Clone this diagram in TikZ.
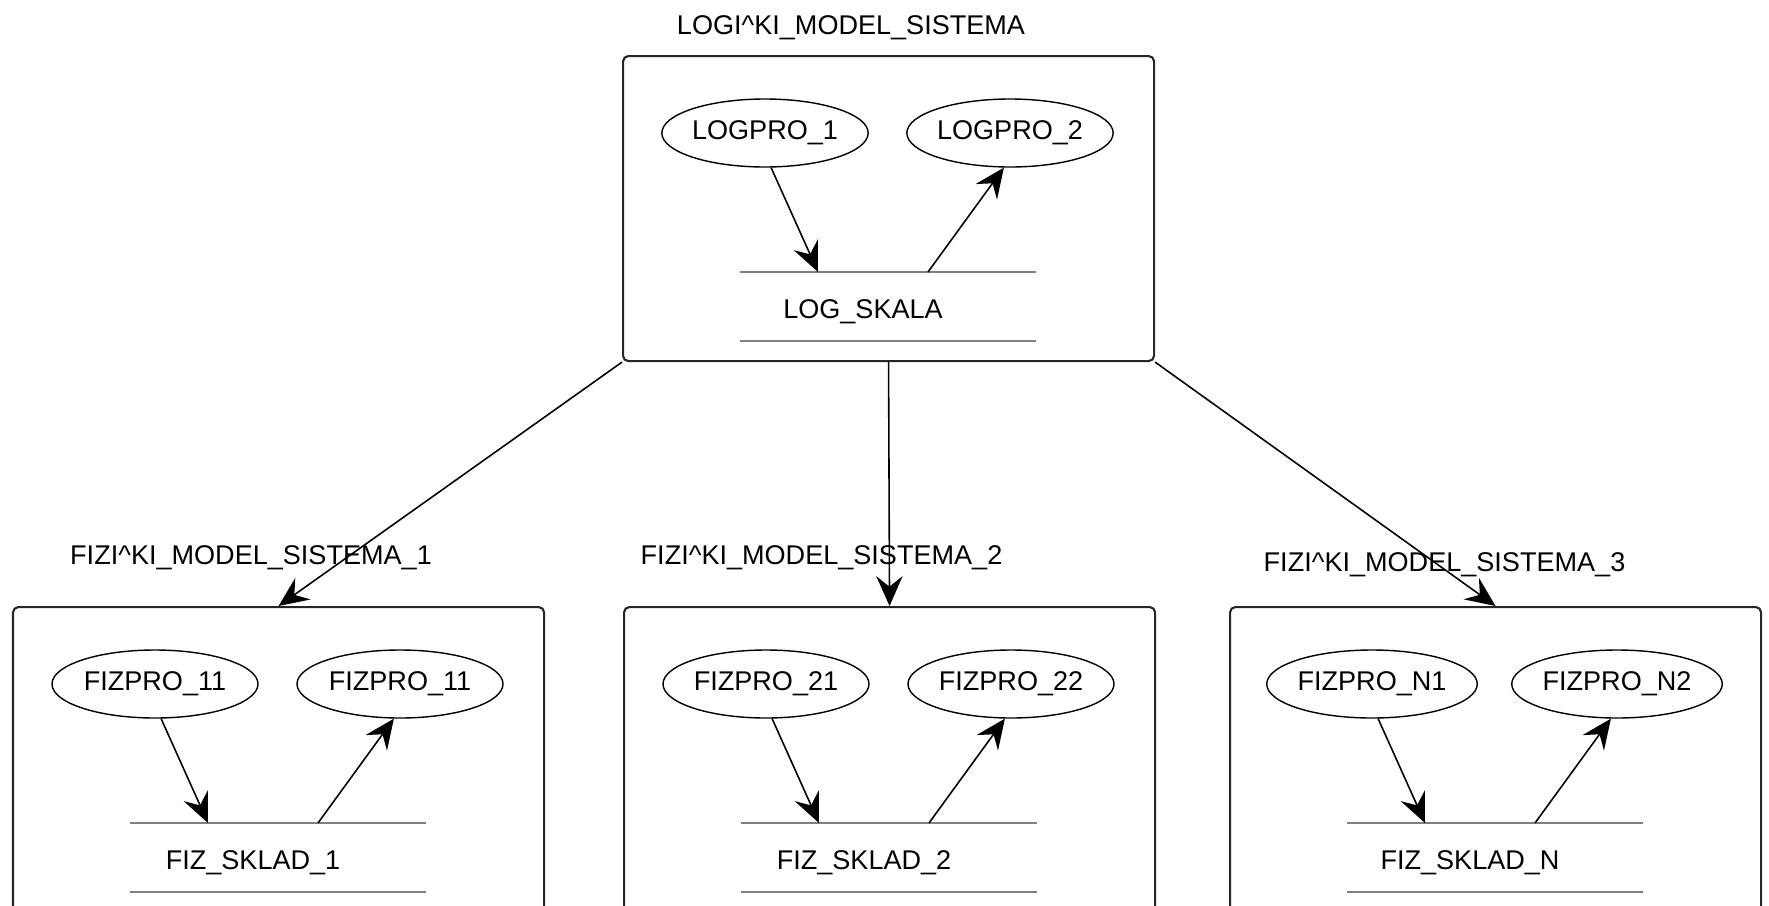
\documentclass[tikz,border=0pt]{standalone}
\usepackage{fontspec}
\setmainfont{Liberation Sans}
\usepackage{tikz}
\usetikzlibrary{arrows.meta,shapes.geometric}

\begin{document}
\begin{tikzpicture}[
  sysbox/.style={draw=black!85, line width=0.6pt, rounded corners=1.5pt, minimum width=5.31cm, minimum height=3.05cm, inner sep=0pt, anchor=north west},
  systitle/.style={font=\fontsize{7.7}{9}\selectfont, inner sep=0pt},
  proc/.style={ellipse, draw, line width=0.4pt, minimum width=2.06cm, minimum height=0.68cm, inner sep=0pt, font=\fontsize{7.7}{9}\selectfont},
  storeline/.style={draw=black!50, line width=0.7pt},
  storetext/.style={font=\fontsize{7.7}{9}\selectfont, inner sep=0pt},
  flow/.style={-{Stealth[length=8.5pt, width=7.5pt, inset=3pt]}, line width=0.45pt},
]
\useasboundingbox (0,0) rectangle (17.69,9.05);

% one box per model: name / corner / title pos / title / processes / store
\foreach \nm/\bx/\by/\tx/\ty/\ttl/\pa/\pb/\sk in {%
  top/6.22/8.50/8.51/8.77/LOGI\textasciicircum KI\_MODEL\_SISTEMA/LOGPRO\_1/LOGPRO\_2/LOG\_SKALA,
  one/0.12/2.99/2.51/3.47/FIZI\textasciicircum KI\_MODEL\_SISTEMA\_1/FIZPRO\_11/FIZPRO\_11/FIZ\_SKLAD\_1,
  two/6.23/2.99/8.215/3.47/FIZI\textasciicircum KI\_MODEL\_SISTEMA\_2/FIZPRO\_21/FIZPRO\_22/FIZ\_SKLAD\_2,
  three/12.29/2.99/14.445/3.40/FIZI\textasciicircum KI\_MODEL\_SISTEMA\_3/FIZPRO\_N1/FIZPRO\_N2/FIZ\_SKLAD\_N%
} {
  \node[sysbox] (box\nm) at (\bx,\by) {};
  \node[systitle] (ttl\nm) at (\tx,\ty) {\ttl};
  \begin{scope}[shift={(\bx,\by)}]
    \node[proc] (pa\nm) at (1.43,-0.78) {\pa};
    \node[proc] (pb\nm) at (3.88,-0.78) {\pb};
    \draw[storeline] (1.18,-2.17) -- (4.14,-2.17);
    \draw[storeline] (1.18,-2.86) -- (4.14,-2.86);
    \node[storetext] (sk\nm) at (2.41,-2.57) {\sk};
    \coordinate (in\nm) at (1.96,-2.17);
    \coordinate (out\nm) at (3.06,-2.17);
  \end{scope}
  \draw[flow] (pa\nm.-80) -- (in\nm);
  \draw[flow] (out\nm) -- (pb\nm.-100);
}

% logical model to the physical ones
\draw[flow] (boxtop.south west) -- (boxone.north);
\draw[flow] (boxtop.south) -- (boxtwo.north);
\draw[flow] (boxtop.south east) -- (boxthree.north);
\end{tikzpicture}
\end{document}
